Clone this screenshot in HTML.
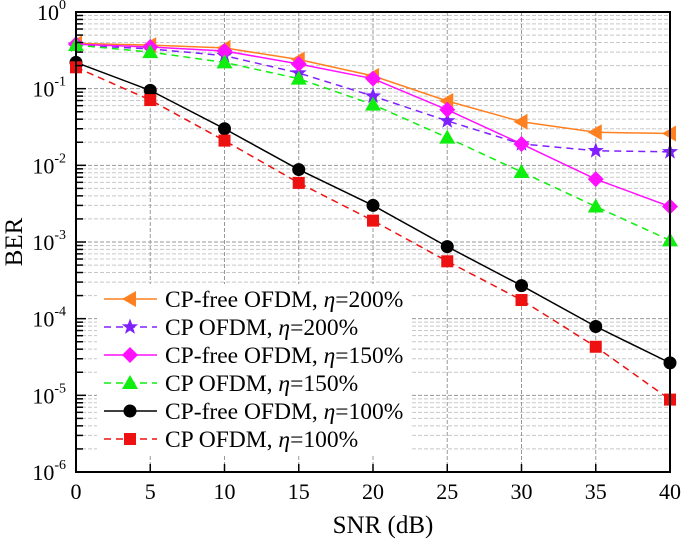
<!DOCTYPE html>
<html><head><meta charset="utf-8"><style>
html,body{margin:0;padding:0;background:#fff;}
svg{display:block;font-family:"Liberation Serif",serif;}
</style></head><body>
<svg id="chart" width="685" height="541" viewBox="0 0 685 541" xmlns="http://www.w3.org/2000/svg">
<g id="grid"></g>
<g id="series"></g>
<g id="axes"></g>
<g id="legend"></g>
</svg>
<script>
const snr = [0,5,10,15,20,25,30,35,40];
const cpFree200 = [0.39,0.37,0.34,0.24,0.147,0.069,0.037,0.027,0.026];
const cp200 = [0.37,0.33,0.27,0.16,0.08,0.038,0.019,0.0155,0.015];
const cpFree150 = [0.38,0.35,0.31,0.21,0.135,0.053,0.019,0.0066,0.0029];
const cp150 = [0.37,0.30,0.22,0.135,0.062,0.023,0.0082,0.0029,0.00105];
const cpFree100 = [0.22,0.095,0.030,0.0088,0.003,0.00087,0.00027,0.000079,0.0000265];
const cp100 = [0.19,0.071,0.021,0.0059,0.0019,0.00056,0.000175,0.000043,0.0000088];
const seriesNames = ["CP-free OFDM, η=200%","CP OFDM, η=200%","CP-free OFDM, η=150%","CP OFDM, η=150%","CP-free OFDM, η=100%","CP OFDM, η=100%"];
const xTicks = [0,5,10,15,20,25,30,35,40];
const yExps = [0,-1,-2,-3,-4,-5,-6];

const NS="http://www.w3.org/2000/svg";
const L=76,R=670,T=12,B=472;
const xs=v=>L+(v-0)/40*(R-L);
const ys=v=>T+(-Math.log10(v))/6*(B-T);
function mk(tag,attrs,parent){const e=document.createElementNS(NS,tag);for(const k in attrs)e.setAttribute(k,attrs[k]);parent.appendChild(e);return e;}
const grid=document.getElementById('grid'),ser=document.getElementById('series'),ax=document.getElementById('axes'),lg=document.getElementById('legend');

for(let d=0;d<6;d++){for(let m=2;m<=9;m++){const y=ys(Math.pow(10,-d-1)*m);
 const g=mk('line',{x1:L,x2:R,y1:y,y2:y,stroke:'#c8c8c8','stroke-width':1,'stroke-dasharray':'4,2'},grid);
 
 const t=mk('line',{x1:L,x2:L+7,y1:y,y2:y,stroke:'#000','stroke-width':1.5},ax);
 }}
yExps.forEach(e=>{const y=ys(Math.pow(10,e));
 const g=mk('line',{x1:L,x2:R,y1:y,y2:y,stroke:'#999','stroke-width':1,'stroke-dasharray':'4,2'},grid);
 
 const t=mk('line',{x1:L,x2:L+10,y1:y,y2:y,stroke:'#000','stroke-width':1.5},ax);
 
 const tx=mk('text',{x:L-10,y:y+8,'text-anchor':'end','font-size':22},ax);
 
 tx.textContent='10';const s=mk('tspan',{dy:-11,'font-size':14},tx);s.textContent=String(e);
});
xTicks.forEach(v=>{const x=xs(v);
 const g=mk('line',{x1:x,x2:x,y1:T,y2:B,stroke:'#999','stroke-width':1,'stroke-dasharray':'4,2'},grid);
 
 const t=mk('line',{x1:x,x2:x,y1:B,y2:B-8,stroke:'#000','stroke-width':1.5},ax);
 
 const tx=mk('text',{x:x,y:B+27,'text-anchor':'middle','font-size':22},ax);
 tx.textContent=v;
});
const fr=mk('rect',{x:L,y:T,width:R-L,height:B-T,fill:'none',stroke:'#000','stroke-width':2},ax);

const xl=mk('text',{x:383,y:533,'text-anchor':'middle','font-size':25},ax);
xl.textContent='SNR (dB)';
const yl=mk('text',{x:0,y:0,'text-anchor':'middle','font-size':25,transform:'translate(22,242) rotate(-90)'},ax);
yl.textContent='BER';

const styles=[
 {d:cpFree200,c:'#ff8020',dash:'',m:'tri-left'},
 {d:cp200,c:'#8020ff',dash:'7,5',m:'star'},
 {d:cpFree150,c:'#ff10ff',dash:'',m:'diamond'},
 {d:cp150,c:'#10ee10',dash:'7,5',m:'tri-up'},
 {d:cpFree100,c:'#000',dash:'',m:'circle'},
 {d:cp100,c:'#ee1111',dash:'7,5',m:'square'}];
function marker(type,x,y,c,p){let e;
 if(type==='circle')e=mk('circle',{cx:x,cy:y,r:6.5,fill:c},p);
 else if(type==='square')e=mk('rect',{x:x-6,y:y-6,width:12,height:12,fill:c},p);
 else if(type==='diamond')e=mk('polygon',{points:`${x},${y-8} ${x+8},${y} ${x},${y+8} ${x-8},${y}`,fill:c},p);
 else if(type==='tri-up')e=mk('polygon',{points:`${x},${y-8} ${x+8},${y+6} ${x-8},${y+6}`,fill:c},p);
 else if(type==='tri-left')e=mk('polygon',{points:`${x-8},${y} ${x+6},${y-8} ${x+6},${y+8}`,fill:c},p);
 else {let pts=[];for(let i=0;i<10;i++){const r=i%2?3.5:8.5,a=-Math.PI/2+i*Math.PI/5;pts.push((x+r*Math.cos(a)).toFixed(1)+','+(y+r*Math.sin(a)).toFixed(1));}
  e=mk('polygon',{points:pts.join(' '),fill:c},p);}
 return e;}
styles.forEach((s,i)=>{
 const pl=mk('polyline',{points:snr.map((v,j)=>xs(v)+','+ys(s.d[j])).join(' '),fill:'none',stroke:s.c,'stroke-width':1.5,'stroke-dasharray':s.dash},ser);
 
 snr.forEach((v,j)=>{const m=marker(s.m,xs(v),ys(s.d[j]),s.c,ser);
  });
});
const bg=mk('rect',{x:97,y:284,width:314,height:170,fill:'#fff'},lg);

styles.forEach((s,i)=>{const y=299+i*28;
 const ln=mk('line',{x1:104,x2:157,y1:y,y2:y,stroke:s.c,'stroke-width':1.5,'stroke-dasharray':s.dash},lg);
 
 const m=marker(s.m,130,y,s.c,lg);
 
 const parts=seriesNames[i].split('η');
 const t=mk('text',{x:165,y:y+8,'font-size':23.5},lg);
 
 t.appendChild(document.createTextNode(parts[0]));
 const it=mk('tspan',{'font-style':'italic'},t);it.textContent='η';
 t.appendChild(document.createTextNode(parts[1]));
});
</script>
</body></html>
